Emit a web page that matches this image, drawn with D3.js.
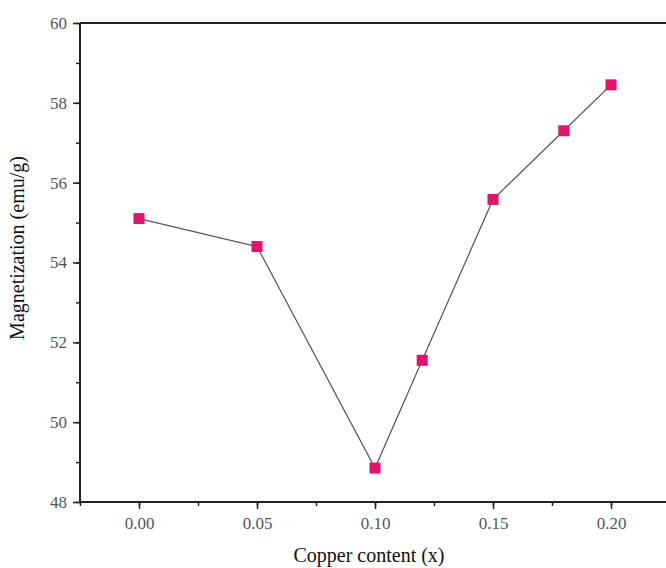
<!DOCTYPE html>
<html lang="en">
<head>
  <meta charset="UTF-8">
  <title>Magnetization vs Copper content</title>
  <script src="https://d3js.org/d3.v7.min.js"></script>
  <style>
    body { margin: 0; background: #fff; }
    .tick text { font-family: "Liberation Serif", "Times New Roman", serif; font-size: 17px; fill: #555; }
    .axis-title { font-family: "Liberation Serif", "Times New Roman", serif; font-size: 20px; fill: #111; }
  </style>
</head>
<body>
  <svg width="666" height="568"></svg>

  <script>
    // data
    const copper = [0.00, 0.05, 0.10, 0.12, 0.15, 0.18, 0.20];
    const magnetization = [55.1, 54.4, 48.85, 51.55, 55.58, 57.3, 58.45];
    const xTicks = [0.00, 0.05, 0.10, 0.15, 0.20];
    const yTicks = [48, 50, 52, 54, 56, 58, 60];

    const data = copper.map((c, i) => ({x: c, y: magnetization[i]}));

    const svg = d3.select("svg");

    const x = d3.scaleLinear().domain([-0.025, 0.225]).range([80, 670]);
    const y = d3.scaleLinear().domain([48, 60]).range([502, 23]);

    // minor ticks
    svg.append("g")
      .attr("transform", "translate(0,502)")
      .call(d3.axisBottom(x).tickValues(d3.range(-0.025, 0.23, 0.025)).tickSize(4).tickFormat(""))
      .call(g => g.select(".domain").remove())
      .selectAll("line").attr("stroke", "#222").attr("stroke-width", 1.5);
    svg.append("g")
      .attr("transform", "translate(80,0)")
      .call(d3.axisLeft(y).tickValues(d3.range(48, 61, 1)).tickSize(4).tickFormat(""))
      .call(g => g.select(".domain").remove())
      .selectAll("line").attr("stroke", "#222").attr("stroke-width", 1.5);

    // major ticks + labels
    svg.append("g")
      .attr("transform", "translate(0,502)")
      .call(d3.axisBottom(x).tickValues(xTicks).tickSize(7).tickPadding(8).tickFormat(d3.format(".2f")))
      .call(g => g.select(".domain").remove())
      .call(g => g.selectAll("line").attr("stroke", "#222").attr("stroke-width", 1.5));

    svg.append("g")
      .attr("transform", "translate(80,0)")
      .call(d3.axisLeft(y).tickValues(yTicks).tickSize(7).tickPadding(6).tickFormat(d3.format("d")))
      .call(g => g.select(".domain").remove())
      .call(g => g.selectAll("line").attr("stroke", "#222").attr("stroke-width", 1.5));

    // frame lines
    svg.append("line").attr("x1", 80).attr("x2", 80).attr("y1", 23).attr("y2", 502)
      .attr("stroke", "#222").attr("stroke-width", 2);
    svg.append("line").attr("x1", 80).attr("x2", 670).attr("y1", 502).attr("y2", 502)
      .attr("stroke", "#222").attr("stroke-width", 2);
    svg.append("line").attr("x1", 80).attr("x2", 670).attr("y1", 23).attr("y2", 23)
      .attr("stroke", "#222").attr("stroke-width", 2);

    // connecting line
    svg.append("path")
      .datum(data)
      .attr("fill", "none")
      .attr("stroke", "#555")
      .attr("stroke-width", 1.2)
      .attr("d", d3.line().x(d => x(d.x)).y(d => y(d.y)));

    // square markers
    const s = 11;
    svg.selectAll(".pt")
      .data(data)
      .join("rect")
      .attr("class", "pt")
      .attr("x", d => x(d.x) - s / 2)
      .attr("y", d => y(d.y) - s / 2)
      .attr("width", s)
      .attr("height", s)
      .attr("fill", "#e0146a");

    // axis titles
    svg.append("text")
      .attr("class", "axis-title")
      .attr("x", 369).attr("y", 562)
      .attr("text-anchor", "middle")
      .text("Copper content (x)");

    svg.append("text")
      .attr("class", "axis-title")
      .attr("transform", "translate(24,248) rotate(-90)")
      .attr("text-anchor", "middle")
      .text("Magnetization (emu/g)");
  </script>
</body>
</html>
